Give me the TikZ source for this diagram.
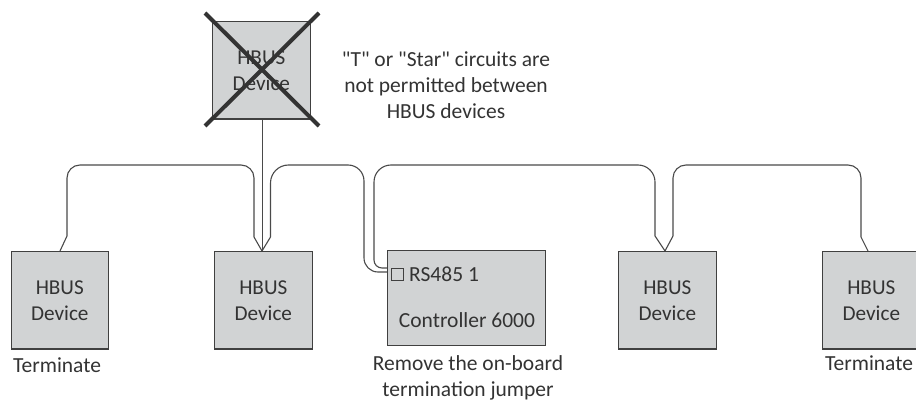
\documentclass[tikz,border=0pt]{standalone}
\usepackage{fontspec}
\setmainfont{Carlito}
\newfontfamily\plainquotes{Carlito}
\definecolor{boxfill}{HTML}{D1D3D4}
\definecolor{boxline}{HTML}{404040}
\definecolor{ink}{HTML}{333333}
\definecolor{wire}{HTML}{4A4A4A}
\tikzset{
  devbox/.style={draw=boxline,fill=boxfill,line width=1.1pt,minimum width=97.5pt,minimum height=97.5pt,inner sep=0pt,anchor=north west,
    text=ink,align=center,font=\fontsize{21.2}{26}\selectfont},
  ctrlbox/.style={draw=boxline,fill=boxfill,line width=1.1pt,minimum width=158pt,minimum height=95pt,inner sep=0pt,anchor=north west},
  note/.style={text=ink,align=center,inner sep=0pt,font=\fontsize{21.5}{26}\selectfont},
  wireline/.style={draw=wire,line width=1.1pt,rounded corners=13pt},
  crossline/.style={draw=boxline!80!black,line width=4pt},
}
\begin{document}
\begin{tikzpicture}[x=1pt,y=-1pt]
\useasboundingbox (0,0) rectangle (916,403);
\clip (0,0) rectangle (916,403);
% boxes
\node[devbox] (top) at (212,21) {HBUS\\Device};
\node[devbox] (d1) at (10.5,251) {HBUS\\Device};
\node[devbox] (d2) at (214,251) {HBUS\\Device};
\node[ctrlbox] (ctrl) at (387,250) {};
\node[devbox] (d4) at (618,251) {HBUS\\Device};
\node[devbox] (d5) at (822,251) {HBUS\\Device};
% controller content
\node[draw=boxline,line width=0.9pt,minimum size=12pt,inner sep=0pt] (port) at (397,274) {};
\node[note,anchor=west] (rs) at (409,274) {RS485 1};
\node[note] (ctl) at (467,320) {Controller 6000};
% labels
\node[note] (t1) at (57,365) {Terminate};
\node[note] (t5) at (869,363) {Terminate};
\node[note] (t3) at (468,378) {Remove the on-board\\termination jumper};
\node[note] (warn) at (446,85) {\plainquotes "T" or "Star" circuits are\\\plainquotes not permitted between\\\plainquotes HBUS devices};
% junctions on the boxes
\coordinate (j1) at (60,251);
\coordinate (j2) at (262,251);
\coordinate (j4) at (665,251);
\coordinate (j5) at (868,251);
\coordinate (p1) at (387,272);
\coordinate (p2) at (387,268);
% wires
\draw[wireline] (j1) [sharp corners] -- (67,236) [rounded corners=13pt] -- (67,165) -- (254,165) [sharp corners] -- (254,237) -- (j2);
\draw[wireline] (j2) [sharp corners] -- (270.5,237) [rounded corners=18pt] -- (270.5,165) [rounded corners=16pt] -- (364,165) [rounded corners=14pt] -- (364,272) -- (p1);
\draw[wireline] (p2) [rounded corners=8pt] -- (374,268) [rounded corners=17pt] -- (374,165) [rounded corners=17pt] -- (655,165) [sharp corners] -- (655,236) -- (j4);
\draw[wireline] (j4) [sharp corners] -- (673,236) [rounded corners=13pt] -- (673,165) -- (861,165) [sharp corners] -- (861,237) -- (j5);
\draw[draw=wire,line width=0.9pt] (top.south -| j2) -- (j2);
% cross
\coordinate (xa) at (205,13);
\coordinate (xb) at (319,126);
\coordinate (xc) at (319,13);
\coordinate (xd) at (205,126);
\draw[crossline] (xa) -- (xb);
\draw[crossline] (xc) -- (xd);
\end{tikzpicture}
\end{document}
